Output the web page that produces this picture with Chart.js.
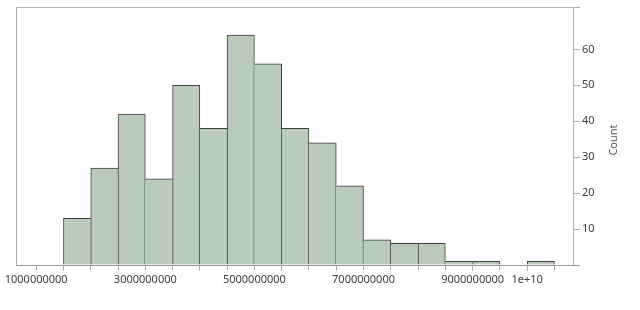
<!DOCTYPE html>
<html><head><meta charset="utf-8">
<script src="https://cdn.jsdelivr.net/npm/chart.js@4"></script>
<style>html,body{margin:0;padding:0;background:#fff}#wrap{width:640px;height:310px}</style>
</head><body><div id="wrap"><canvas id="c" width="640" height="310"></canvas></div>
<script>
const binStarts = [1.5e9, 2e9, 2.5e9, 3e9, 3.5e9, 4e9, 4.5e9, 5e9, 5.5e9, 6e9, 6.5e9, 7e9, 7.5e9, 8e9, 8.5e9, 9e9, 9.5e9, 1e10];
const binWidth = 0.5e9;
const counts = [13, 27, 42, 24, 50, 38, 64, 56, 38, 34, 22, 7, 6, 6, 1, 1, null, 1];
const xTickValues = [1e9, 1.5e9, 2e9, 2.5e9, 3e9, 3.5e9, 4e9, 4.5e9, 5e9, 5.5e9, 6e9, 6.5e9, 7e9, 7.5e9, 8e9, 8.5e9, 9e9, 9.5e9, 1e10, 1.05e10];
const xLabelValues = [1e9, 3e9, 5e9, 7e9, 9e9, 1e10];
const yTickLabels = [10, 20, 30, 40, 50, 60];

Chart.defaults.font.family = "'Noto Sans', sans-serif";
Chart.defaults.font.size = 11;
Chart.defaults.color = '#3b3b3b';

const h = i => counts[i] || 0;
const frameColor = '#b0b0b0';
const axisColor = '#9a9a9a';

const framePlugin = {
  id: 'frame',
  afterDatasetsDraw(chart) {
    const a = chart.chartArea, ctx = chart.ctx;
    ctx.save();
    ctx.strokeStyle = frameColor; ctx.lineWidth = 1;
    ctx.beginPath();
    ctx.moveTo(Math.round(a.left) + 0.5, Math.round(a.bottom));
    ctx.lineTo(Math.round(a.left) + 0.5, Math.round(a.top) + 0.5);
    ctx.lineTo(Math.round(a.right), Math.round(a.top) + 0.5);
    ctx.stroke();
    ctx.strokeStyle = axisColor;
    ctx.beginPath();
    ctx.moveTo(Math.round(a.right), Math.round(a.bottom) + 0.5);
    ctx.lineTo(Math.round(a.right) + 6, Math.round(a.bottom) + 0.5);
    ctx.stroke();
    ctx.restore();
  },
  afterDraw(chart) {
    const ctx = chart.ctx;
    ctx.save();
    ctx.translate(614, 140);
    ctx.rotate(-Math.PI / 2);
    ctx.font = "11px 'Noto Sans', sans-serif";
    ctx.fillStyle = '#555a66';
    ctx.textAlign = 'center'; ctx.textBaseline = 'middle';
    ctx.fillText('Count', 0, 0);
    ctx.restore();
  }
};

new Chart(document.getElementById('c'), {
  type: 'bar',
  data: {
    datasets: [{
      data: binStarts.map((s, i) => ({ x: s + binWidth / 2, y: counts[i] })),
      backgroundColor: '#bacbbb',
      borderColor: '#3f3f3f',
      borderWidth: ctx => {
        const i = ctx.dataIndex;
        return { top: 1, bottom: 0, left: h(i) >= h(i - 1) ? 1 : 0, right: h(i) > h(i + 1) ? 1 : 0 };
      },
      barPercentage: 1,
      categoryPercentage: 1
    }]
  },
  options: {
    responsive: false,
    animation: false,
    layout: { padding: { left: 16, top: 7, right: 0, bottom: 0 } },
    plugins: { legend: { display: false }, tooltip: { enabled: false } },
    scales: {
      x: {
        type: 'linear',
        offset: false,
        min: 0.63e9,
        max: 10.84e9,
        afterBuildTicks: s => { s.ticks = xTickValues.map(v => ({ value: v })); },
        afterFit: s => { s.height = 45; s.paddingLeft = 0; s.paddingRight = 0; },
        ticks: {
          autoSkip: false, maxRotation: 0, minRotation: 0, padding: 2,
          callback: v => xLabelValues.includes(v) ? (v >= 1e10 ? v.toExponential() : String(v)) : ''
        },
        grid: { offset: false, drawOnChartArea: false, drawTicks: true, tickLength: 6, color: frameColor },
        border: { display: true, color: axisColor }
      },
      y: {
        position: 'right',
        min: 0,
        max: 71.8,
        afterFit: s => { s.width = 67; s.paddingTop = 0; s.paddingBottom = 0; },
        ticks: {
          stepSize: 10, padding: 2,
          callback: v => yTickLabels.includes(v) ? String(v) : ''
        },
        grid: { drawOnChartArea: false, drawTicks: true, tickLength: 7, color: frameColor },
        border: { display: true, color: frameColor }
      }
    }
  },
  plugins: [framePlugin]
});
</script>
</body></html>
